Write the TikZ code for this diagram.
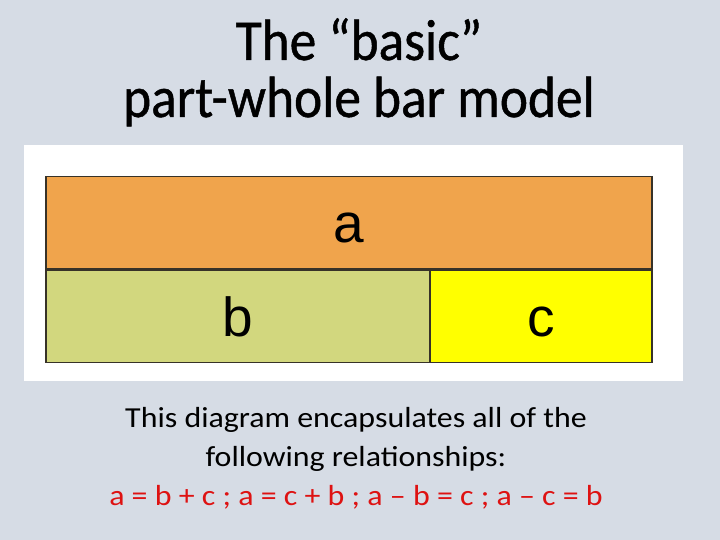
\documentclass[tikz,border=0pt]{standalone}
\usepackage{fontspec}
\setmainfont{Carlito}
\newfontfamily\titlefont[FakeStretch=0.92,FakeBold=0.8]{Carlito}
\newfontfamily\notefont[FakeStretch=1.1]{Carlito}
\newfontfamily\barfont{Liberation Sans}
\usetikzlibrary{positioning}
\definecolor{slidebg}{RGB}{214,220,229}
\definecolor{wholeorange}{RGB}{240,164,76}
\definecolor{partgreen}{RGB}{210,215,126}
\definecolor{partyellow}{RGB}{255,255,0}
\definecolor{barline}{RGB}{55,50,40}
\definecolor{relred}{RGB}{222,18,18}
\tikzset{
  barpart/.style={draw=barline, line width=1.4pt, inner sep=0pt,
    minimum height=92.5pt, font=\barfont\fontsize{55}{60}\selectfont},
}
\begin{document}
\begin{tikzpicture}[x=1pt,y=-1pt]
      \fill[slidebg] (0,0) rectangle (720,540);
      \useasboundingbox (0,0) rectangle (720,540);
      \node[align=center, anchor=base, font=\titlefont\fontsize{58}{57}\selectfont] (title) at (359,117)
        {The “basic”\\part-whole bar model};
      \fill[white] (24,145) rectangle (683,381);
      \node[barpart, fill=wholeorange, minimum width=606pt] (a) at (349,222.5) {\vphantom{b}a};
      \node[barpart, fill=partgreen, minimum width=384pt, anchor=north west] (b) at (a.south west) {\vphantom{b}b};
      \node[barpart, fill=partyellow, minimum width=222pt, anchor=north east] (c) at (a.south east) {\vphantom{b}c};
      \node[align=center, anchor=base, font=\notefont\fontsize{29}{39}\selectfont] (note) at (356,505)
        {This diagram encapsulates all of the\\following relationships:\\
         \textcolor{relred}{a = b + c ; a = c + b ; a – b = c ; a – c = b}};
    \end{tikzpicture}
\end{document}
